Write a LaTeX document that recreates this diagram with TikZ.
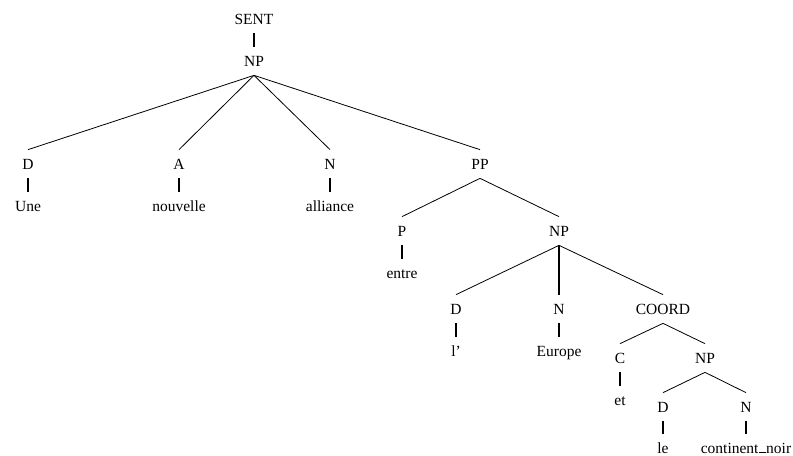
\documentclass[tikz,border=0pt]{standalone}
\usepackage{fontspec}
\setmainfont{Liberation Serif}
\newfontfamily\treefont[Ligatures=TeX]{Liberation Serif}
% underscore drawn as a rule sitting on the baseline
\newcommand{\baseunderscore}{\kern0.04em\rule{0.42em}{1.2bp}\kern0.04em}
\begin{document}
\begin{tikzpicture}[x=1bp,y=-1bp,
  lbl/.style={inner xsep=0pt, inner ysep=9bp, text height=10.3bp, text depth=0pt,
              font=\treefont\fontsize{15.5bp}{18bp}\selectfont},
  branch/.style={line width=0.8bp},
  stem/.style={line width=2bp}]
\useasboundingbox (0,0) rectangle (793,456);

% categories and words
\node[lbl] (sent)   at (254,19)  {SENT};
\node[lbl] (np0)    at (254,61)  {NP};
\node[lbl] (d1)     at (28,164)  {D};
\node[lbl] (a1)     at (179,164) {A};
\node[lbl] (n1)     at (330,164) {N};
\node[lbl] (pp)     at (480,164) {PP};
\node[lbl] (w-une)  at (28,206)  {Une};
\node[lbl] (w-nouv) at (179,206) {nouvelle};
\node[lbl] (w-all)  at (330,206) {alliance};
\node[lbl] (p)      at (402,231) {P};
\node[lbl] (np2)    at (559,231) {NP};
\node[lbl] (w-ent)  at (402,273) {entre};
\node[lbl] (d2)     at (456,309) {D};
\node[lbl] (n2)     at (559,309) {N};
\node[lbl] (coord)  at (663,309) {COORD};
\node[lbl] (w-l)    at (456,351) {l’};
\node[lbl] (w-eur)  at (559,351) {Europe};
\node[lbl] (c)      at (620,358) {C};
\node[lbl] (np3)    at (705,358) {NP};
\node[lbl] (w-et)   at (620,400) {et};
\node[lbl] (d3)     at (663,407) {D};
\node[lbl] (n3)     at (746,407) {N};
\node[lbl] (w-le)   at (663,448) {le};
\node[lbl] (w-cn)   at (746,448) {continent\baseunderscore noir};

% branches
\draw[branch] (np0.south) -- (d1.north);
\draw[branch] (np0.south) -- (a1.north);
\draw[branch] (np0.south) -- (n1.north);
\draw[branch] (np0.south) -- (pp.north);
\draw[branch] (pp.south) -- (p.north);
\draw[branch] (pp.south) -- (np2.north);
\draw[branch] (np2.south) -- (d2.north);
\draw[stem]   (np2.south) -- (n2.north);
\draw[branch] (np2.south) -- (coord.north);
\draw[branch] (coord.south) -- (c.north);
\draw[branch] (coord.south) -- (np3.north);
\draw[branch] (np3.south) -- (d3.north);
\draw[branch] (np3.south) -- (n3.north);

% unary stems
\draw[stem] (sent.south) -- (np0.north);
\draw[stem] (d1.south) -- (w-une.north);
\draw[stem] (a1.south) -- (w-nouv.north);
\draw[stem] (n1.south) -- (w-all.north);
\draw[stem] (p.south) -- (w-ent.north);
\draw[stem] (d2.south) -- (w-l.north);
\draw[stem] (n2.south) -- (w-eur.north);
\draw[stem] (c.south) -- (w-et.north);
\draw[stem] (d3.south) -- (w-le.north);
\draw[stem] (n3.south) -- (w-cn.north);
\end{tikzpicture}
\end{document}
